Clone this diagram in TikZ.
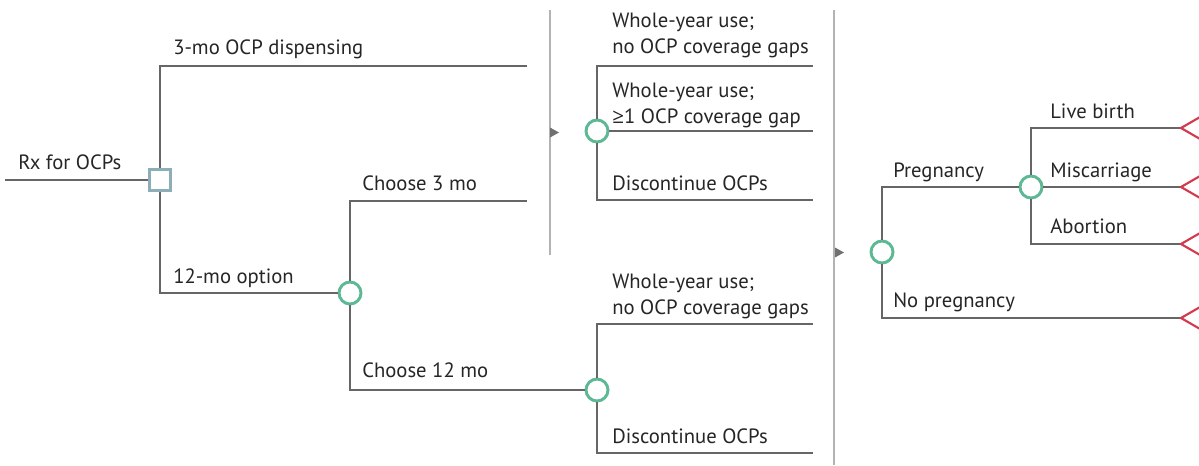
\documentclass[tikz,border=0pt]{standalone}
\usepackage{fontspec}
\setmainfont{PT Sans}
\newfontfamily\geqfont{Open Sans}
\definecolor{treegray}{HTML}{666666}
\definecolor{sepgray}{HTML}{B3B3B3}
\definecolor{markergray}{HTML}{707070}
\definecolor{chancegreen}{HTML}{5DB894}
\definecolor{decisionblue}{HTML}{8DAEB8}
\definecolor{termred}{HTML}{D23A4E}
\definecolor{textgray}{HTML}{262626}
\begin{document}
\begin{tikzpicture}[x=0.75pt,y=-0.75pt,
  branch/.style={draw=treegray, line width=1.1pt},
  sepline/.style={draw=sepgray, line width=1.1pt},
  chance/.style={circle, draw=chancegreen, line width=2.2pt, fill=white, minimum size=16.5pt, inner sep=0pt},
  decision/.style={rectangle, draw=decisionblue, line width=2.2pt, fill=white, minimum size=15.75pt, inner sep=0pt},
  lbl/.style={anchor=base west, inner sep=0pt, font=\fontsize{15.5}{18}\selectfont, text=textgray},
  marker/.style={fill=markergray, draw=none},
  term/.style={draw=termred, line width=1.6pt, line join=miter}]
\useasboundingbox (0,0) rectangle (1199,465);
\clip (0,0) rectangle (1199,465);
\fill[white] (0,0) rectangle (1199,465);

% separators
\draw[sepline] (550,10) -- (550,255);
\draw[sepline] (834,10) -- (834,465);
\fill[marker] (550,127.5) -- (559,132.5) -- (550,137.5) -- cycle;
\fill[marker] (835,247.5) -- (844,252.5) -- (835,257.5) -- cycle;

% nodes
\node[decision] (d0) at (160,180) {};
\node[chance] (c1) at (350,293) {};
\node[chance] (c2) at (597,131) {};
\node[chance] (c3) at (597,390) {};
\node[chance] (c4) at (882,252) {};
\node[chance] (c5) at (1031,187) {};

% coordinates
\coordinate (start) at (5,180);
\coordinate (e3mo) at (527,66);
\coordinate (ech3) at (527,201);
\coordinate (a1) at (813,66);
\coordinate (a2) at (813,131);
\coordinate (a3) at (813,200);
\coordinate (b1) at (813,324);
\coordinate (b3) at (813,453);
\coordinate (t1) at (1181,128);
\coordinate (t2) at (1181,187);
\coordinate (t3) at (1181,244);
\coordinate (t4) at (1181,318);

% branches
\draw[branch] (start) -- (d0.west);
\draw[branch] (d0.north) |- (e3mo);
\draw[branch] (d0.south) |- (c1.west);
\draw[branch] (c1.north) |- (ech3);
\draw[branch] (c1.south) |- (c3.west);
\draw[branch] (c2.north) |- (a1);
\draw[branch] (c2.east) -- (a2);
\draw[branch] (c2.south) |- (a3);
\draw[branch] (c3.north) |- (b1);
\draw[branch] (c3.south) |- (b3);
\draw[branch] (c4.north) |- (c5.west);
\draw[branch] (c4.south) |- (t4);
\draw[branch] (c5.north) |- (t1);
\draw[branch] (c5.east) -- (t2);
\draw[branch] (c5.south) |- (t3);

% terminal markers
\foreach \t in {t1,t2,t3,t4}{
  \draw[term] (\t) ++(26,-15) -- (\t) -- ++(26,15);
}

% labels
\node[lbl] (lrx) at (18,169) {Rx for OCPs};
\node[lbl] (l3mo) at (173,54) {3-mo OCP dispensing};
\node[lbl] (l12opt) at (173,283) {12-mo option};
\node[lbl] (lch3) at (362,190) {Choose 3 mo};
\node[lbl] (lch12) at (362,377) {Choose 12 mo};
\node[lbl] (la1a) at (612,27) {Whole-year use;};
\node[lbl] (la1b) at (612,53) {no OCP coverage gaps};
\node[lbl] (la2a) at (612,97) {Whole-year use;};
\node[lbl] (la2b) at (612,123) {{\geqfont ≥}1 OCP coverage gap};
\node[lbl] (la3) at (612,190) {Discontinue OCPs};
\node[lbl] (lb1a) at (612,288) {Whole-year use;};
\node[lbl] (lb1b) at (612,314) {no OCP coverage gaps};
\node[lbl] (lb3) at (612,443) {Discontinue OCPs};
\node[lbl] (lpreg) at (893,177) {Pregnancy};
\node[lbl] (lnopreg) at (893,307) {No pregnancy};
\node[lbl] (llive) at (1050,118) {Live birth};
\node[lbl] (lmisc) at (1050,177) {Miscarriage};
\node[lbl] (labort) at (1050,233) {Abortion};
\end{tikzpicture}
\end{document}
